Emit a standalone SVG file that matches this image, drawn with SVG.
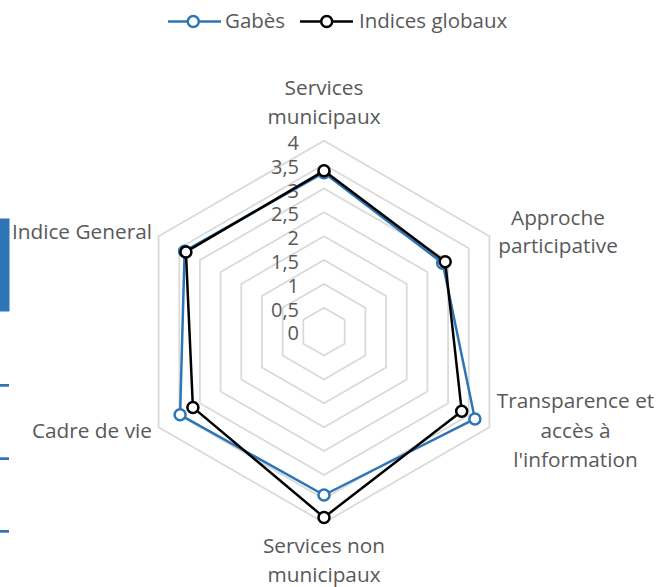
<svg xmlns="http://www.w3.org/2000/svg" width="671" height="587" viewBox="0 0 671 587">
<style>
text{font-family:"Open Sans","Noto Sans","Liberation Sans",sans-serif;font-size:20.8px;fill:#595959}
.ring{fill:none;stroke:#D9D9D9;stroke-width:1.75}
.blue{fill:none;stroke:#2E75B6;stroke-width:2.5;stroke-linejoin:round}
.black{fill:none;stroke:#000;stroke-width:2.5;stroke-linejoin:round}
.mb{fill:#fff;stroke:#2E75B6;stroke-width:2.5}
.mk{fill:#fff;stroke:#000;stroke-width:2.5}
.deco{fill:#2E75B6}
.v{text-anchor:end;font-size:20px}
.c{text-anchor:middle}
.e{text-anchor:end}
.lg{font-size:20.5px}
</style>
<rect width="671" height="587" fill="#fff"/>
<g id="left-decoration">
<rect class="deco" x="0" y="218.5" width="9.5" height="93"/>
<rect class="deco" x="0" y="384" width="9" height="2.7"/>
<rect class="deco" x="0" y="457.3" width="9" height="2.7"/>
<rect class="deco" x="0" y="530" width="9" height="2.7"/>
</g>
<g id="grid">
<polygon class="ring" points="324,307.83 344.68,319.76 344.68,343.64 324,355.58 303.32,343.64 303.32,319.76"/>
<polygon class="ring" points="324,283.95 365.35,307.83 365.35,355.58 324,379.45 282.65,355.58 282.65,307.83"/>
<polygon class="ring" points="324,260.08 386.03,295.89 386.03,367.51 324,403.33 261.97,367.51 261.97,295.89"/>
<polygon class="ring" points="324,236.2 406.71,283.95 406.71,379.45 324,427.2 241.29,379.45 241.29,283.95"/>
<polygon class="ring" points="324,212.33 427.38,272.01 427.38,391.39 324,451.08 220.62,391.39 220.62,272.01"/>
<polygon class="ring" points="324,188.45 448.06,260.08 448.06,403.33 324,474.95 199.94,403.33 199.94,260.08"/>
<polygon class="ring" points="324,164.58 468.73,248.14 468.73,415.26 324,498.83 179.27,415.26 179.27,248.14"/>
<polygon class="ring" points="324,140.7 489.41,236.2 489.41,427.2 324,522.7 158.59,427.2 158.59,236.2"/>
</g>
<g id="axis-values">
<text class="v" x="299" y="340.3">0</text>
<text class="v" x="299" y="316.5">0,5</text>
<text class="v" x="299" y="292.7">1</text>
<text class="v" x="299" y="268.9">1,5</text>
<text class="v" x="299" y="245.1">2</text>
<text class="v" x="299" y="221.3">2,5</text>
<text class="v" x="299" y="197.5">3</text>
<text class="v" x="299" y="173.7">3,5</text>
<text class="v" x="299" y="149.9">4</text>
</g>
<g id="axis-labels">
<text class="c" x="324" y="95">Services</text>
<text class="c" x="324" y="124">municipaux</text>
<text class="c" x="558" y="225">Approche</text>
<text class="c" x="558" y="253.3">participative</text>
<text class="c" x="575.5" y="408.3">Transparence et</text>
<text class="c" x="575.5" y="438">accès à</text>
<text class="c" x="575.5" y="466.7">l'information</text>
<text class="c" x="324" y="553.3">Services non</text>
<text class="c" x="324" y="581.7">municipaux</text>
<text class="e" x="152" y="438.3">Cadre de vie</text>
<text class="e" x="152" y="239">Indice General</text>
</g>
<g id="connectors">
<g id="series-gabes">
<polygon class="blue" points="324,172.7 442.7,263.2 474.9,418.9 324,495 180.1,414.8 184.6,251.2"/>
<circle class="mb" cx="324" cy="172.7" r="5.5"/>
<circle class="mb" cx="442.7" cy="263.2" r="5.5"/>
<circle class="mb" cx="474.9" cy="418.9" r="5.5"/>
<circle class="mb" cx="324" cy="495" r="5.5"/>
<circle class="mb" cx="180.1" cy="414.8" r="5.5"/>
<circle class="mb" cx="184.6" cy="251.2" r="5.5"/>
</g>
<g id="series-indices">
<polygon class="black" points="324,170.8 445.2,261.8 461.7,411.2 324,517.4 192.9,407.4 185.9,251.95"/>
<circle class="mk" cx="324" cy="170.8" r="5.5"/>
<circle class="mk" cx="445.2" cy="261.8" r="5.5"/>
<circle class="mk" cx="461.7" cy="411.2" r="5.5"/>
<circle class="mk" cx="324" cy="517.4" r="5.5"/>
<circle class="mk" cx="192.9" cy="407.4" r="5.5"/>
<circle class="mk" cx="185.9" cy="251.95" r="5.5"/>
</g>
</g>
<g id="legend">
<line x1="168" y1="21.5" x2="221" y2="21.5" stroke="#2E75B6" stroke-width="2.5"/>
<circle class="mb" cx="193.3" cy="21.5" r="5.5"/>
<text class="lg" x="225" y="28.3">Gabès</text>
<line x1="300" y1="21.5" x2="353" y2="21.5" stroke="#000" stroke-width="2.5"/>
<circle class="mk" cx="326.7" cy="21.5" r="5.5"/>
<text class="lg" x="359" y="28.3">Indices globaux</text>
</g>
</svg>
